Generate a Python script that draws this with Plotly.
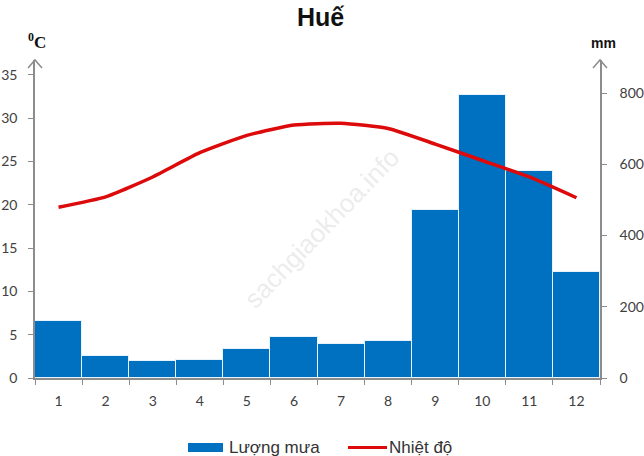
import plotly.graph_objects as go

months = ["1", "2", "3", "4", "5", "6", "7", "8", "9", "10", "11", "12"]
rain_mm = [161, 62, 47, 51, 82, 116, 95, 104, 473, 795, 580, 297]
temp_c = [19.7, 20.9, 23.2, 26.0, 28.0, 29.2, 29.4, 28.8, 27.0, 25.1, 23.2, 20.8]
temp_ticks = [0, 5, 10, 15, 20, 25, 30, 35]
rain_ticks = [0, 200, 400, 600, 800]

W, H = 644, 456
L, R, T, B = 35, 44, 60, 78
PW, PH = W - L - R, H - T - B

def px(x):
    return (x - L) / PW

def py(y):
    return (H - B - y) / PH

BLUE = "#0070c0"
RED = "#dc0a0a"
GRAY = "#8c8c8c"
TXT = "#333333"

fig = go.Figure()
fig.add_trace(go.Bar(x=months, y=rain_mm, name="Lượng mưa", yaxis="y",
                     marker=dict(color=BLUE, line=dict(color="#e8f2fb", width=1)),
                     showlegend=False))
fig.add_trace(go.Scatter(x=months, y=temp_c, name="Nhiệt độ", yaxis="y2", mode="lines",
                         line=dict(color=RED, width=3.5, shape="spline", smoothing=0.5),
                         showlegend=False))

tickfont = dict(family="Lato", size=14, color="#404040")

fig.update_layout(
    width=W, height=H,
    margin=dict(l=L, r=R, t=T, b=B, autoexpand=False),
    paper_bgcolor="white", plot_bgcolor="white",
    bargap=0,
    xaxis=dict(type="category", tickson="boundaries", ticks="outside", ticklen=5,
               tickcolor=GRAY, showline=True, linecolor=GRAY, linewidth=1.5,
               showgrid=False, tickfont=tickfont, ticklabelstandoff=9, automargin=False),
    yaxis=dict(side="right", range=[0, 893], tickvals=rain_ticks, ticks="outside",
               ticklen=5, tickcolor=GRAY, showline=True, linecolor=GRAY, linewidth=1.5,
               showgrid=False, zeroline=False, tickfont=tickfont, ticklabelstandoff=10,
               automargin=False),
    yaxis2=dict(side="left", overlaying="y", range=[0, 36.7], tickvals=temp_ticks,
                ticks="outside", ticklen=5, tickcolor=GRAY, showline=True, linecolor=GRAY,
                linewidth=1.5, showgrid=False, zeroline=False, tickfont=tickfont,
                ticklabelstandoff=8, automargin=False),
    showlegend=False,
)

shapes = []
# axis arrowheads
for ax_x in (35, 600):
    shapes.append(dict(type="path", xref="paper", yref="paper",
                       path=f"M {px(ax_x-7)} {py(68)} L {px(ax_x)} {py(60)} L {px(ax_x+7)} {py(68)}",
                       line=dict(color=GRAY, width=1.5)))
# custom legend
shapes.append(dict(type="rect", xref="paper", yref="paper",
                   x0=px(188), x1=px(223), y0=py(452), y1=py(443),
                   fillcolor=BLUE, line=dict(width=0)))
shapes.append(dict(type="line", xref="paper", yref="paper",
                   x0=px(348), x1=px(387), y0=py(447.5), y1=py(447.5),
                   line=dict(color=RED, width=3)))
fig.update_layout(shapes=shapes)

ann = [
    dict(text="<b>Huế</b>", x=px(320), y=py(17), font=dict(family="Liberation Sans", size=25, color="#111111")),
    dict(text="<b><sup>0</sup>C</b>", x=px(37), y=py(41), font=dict(family="Liberation Serif", size=17, color="#111111")),
    dict(text="<b>mm</b>", x=px(603), y=py(43), font=dict(family="Liberation Sans", size=14, color="#111111")),
    dict(text="Lượng mưa", x=px(227), y=py(447.5), xanchor="left",
         font=dict(family="Liberation Sans", size=17, color=TXT)),
    dict(text="Nhiệt độ", x=px(387), y=py(447.5), xanchor="left",
         font=dict(family="Liberation Sans", size=17, color=TXT)),
    dict(text="sachgiaokhoa.info", x=px(322), y=py(228), textangle=-46,
         font=dict(family="Liberation Sans", size=26, color="rgba(200,200,200,0.35)")),
]
for a in ann:
    a.setdefault("xanchor", "center")
    a.update(xref="paper", yref="paper", yanchor="middle", showarrow=False)
fig.update_layout(annotations=ann)

fig.write_html("out.html", config={"displayModeBar": False},
               post_script="document.body.style.margin='0';document.body.style.overflow='hidden';")
